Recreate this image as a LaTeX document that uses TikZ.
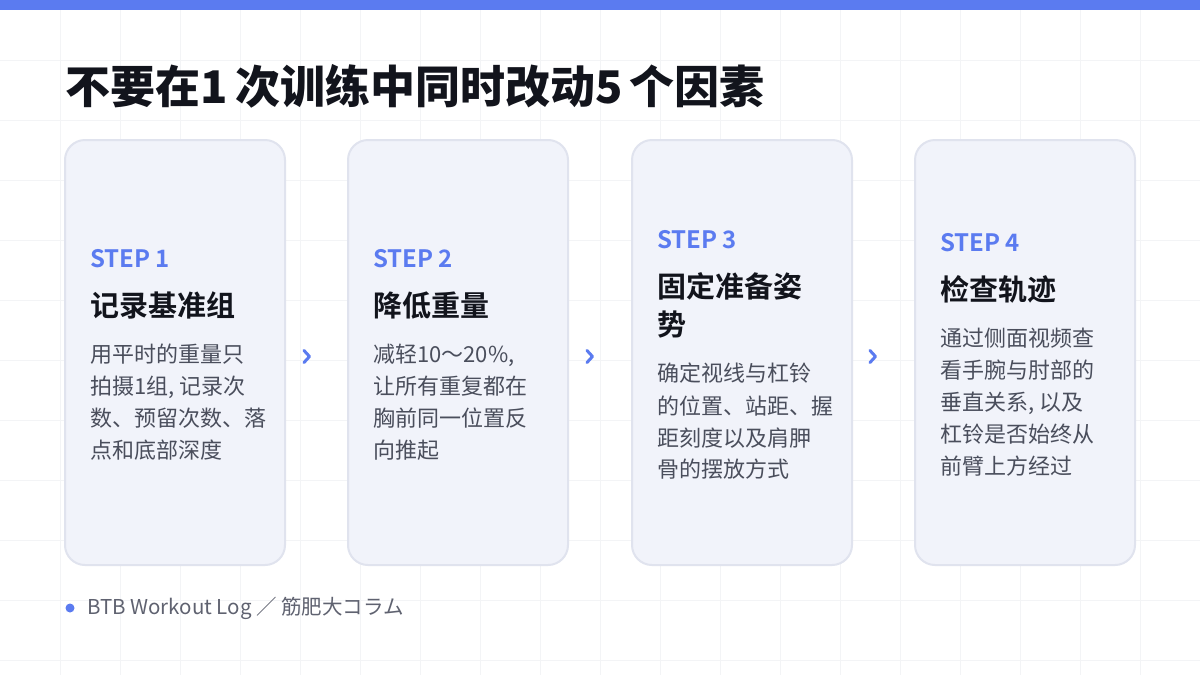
\documentclass[tikz,border=0pt]{standalone}
\usepackage{fontspec}
\setmainfont{Noto Sans CJK SC}
\newfontfamily\cjkb{Noto Sans CJK SC Bold}
\newfontfamily\cjkblack{Noto Sans CJK SC Black}
\definecolor{blueA}{HTML}{5B7BF0}
\definecolor{cardF}{HTML}{F1F3FA}
\definecolor{cardD}{HTML}{E0E3EE}
\definecolor{ink}{HTML}{12141C}
\definecolor{body}{HTML}{4A4E5C}
\definecolor{foot}{HTML}{5F6270}
\definecolor{gridc}{HTML}{F3F4F6}
\tikzset{
 card/.style={draw=cardD,fill=cardF,line width=2pt,rounded corners=20pt},
 lab/.style={anchor=base west,inner sep=0,font=\cjkb\fontsize{24}{24}\selectfont,text=blueA},
 ttl/.style={anchor=base west,inner sep=0,font=\cjkb\fontsize{29}{29}\selectfont,text=ink},
 bd/.style={anchor=base west,inner sep=0,font=\fontsize{22}{22}\selectfont,text=body},
 chev/.style={draw=blueA,line width=3pt,line cap=round,line join=round},
}
\begin{document}
\begin{tikzpicture}[x=1pt,y=-1pt]
\useasboundingbox (0,0) rectangle (1200,675);
\fill[white] (0,0) rectangle (1200,675);
\foreach \i in {60,120,...,1140} \draw[gridc,line width=0.8pt] (\i,10) -- (\i,675);
\foreach \j in {60,120,...,660} \draw[gridc,line width=0.8pt] (0,\j) -- (1200,\j);
\fill[blueA] (0,0) rectangle (1200,10);
\node[anchor=base west,inner sep=0,font=\cjkblack\fontsize{45}{45}\selectfont,text=ink] (title) at (65,103) {不要在1\,次训练中同时改动5\,个因素};
% cards
\foreach \x/\n in {65/1,348/2,632/3,915/4}
  \draw[card] (\x,140) rectangle ++(220,425);
% card 1
\node[lab] (l1) at (90,267) {STEP 1};
\node[ttl] (t1) at (90,316) {记录基准组};
\node[bd] (b11) at (90,362) {用平时的重量只};
\node[bd] (b12) at (90,394) {拍摄1组, 记录次};
\node[bd] (b13) at (90,426) {数、预留次数、落};
\node[bd] (b14) at (90,458) {点和底部深度};
% card 2
\node[lab] (l2) at (373,267) {STEP 2};
\node[ttl] (t2) at (373,316) {降低重量};
\node[bd] (b21) at (373,362) {减轻10～20\%,};
\node[bd] (b22) at (373,394) {让所有重复都在};
\node[bd] (b23) at (373,426) {胸前同一位置反};
\node[bd] (b24) at (373,458) {向推起};
% card 3
\node[lab] (l3) at (657,248) {STEP 3};
\node[ttl] (t3a) at (657,297) {固定准备姿};
\node[ttl] (t3b) at (657,335) {势};
\node[bd] (b31) at (657,381) {确定视线与杠铃};
\node[bd] (b32) at (657,414) {的位置、站距、握};
\node[bd] (b33) at (657,446) {距刻度以及肩胛};
\node[bd] (b34) at (657,477) {骨的摆放方式};
% card 4
\node[lab] (l4) at (940,251) {STEP 4};
\node[ttl] (t4) at (940,300) {检查轨迹};
\node[bd] (b41) at (940,346) {通过侧面视频查};
\node[bd] (b42) at (940,378) {看手腕与肘部的};
\node[bd] (b43) at (940,410) {垂直关系, 以及};
\node[bd] (b44) at (940,442) {杠铃是否始终从};
\node[bd] (b45) at (940,474) {前臂上方经过};
% chevrons
\foreach \cx in {307,590,873}
  \draw[chev] (\cx-3,350.5) -- (\cx+2.5,356.5) -- (\cx-3,362.5);
% footer
\fill[blueA] (70,608) circle (4.5);
\node[anchor=west,inner sep=0,font=\fontsize{20.5}{20.5}\selectfont,text=foot] (ft) at (87,608) {BTB Workout Log ／ 筋肥大コラム};
\end{tikzpicture}
\end{document}
